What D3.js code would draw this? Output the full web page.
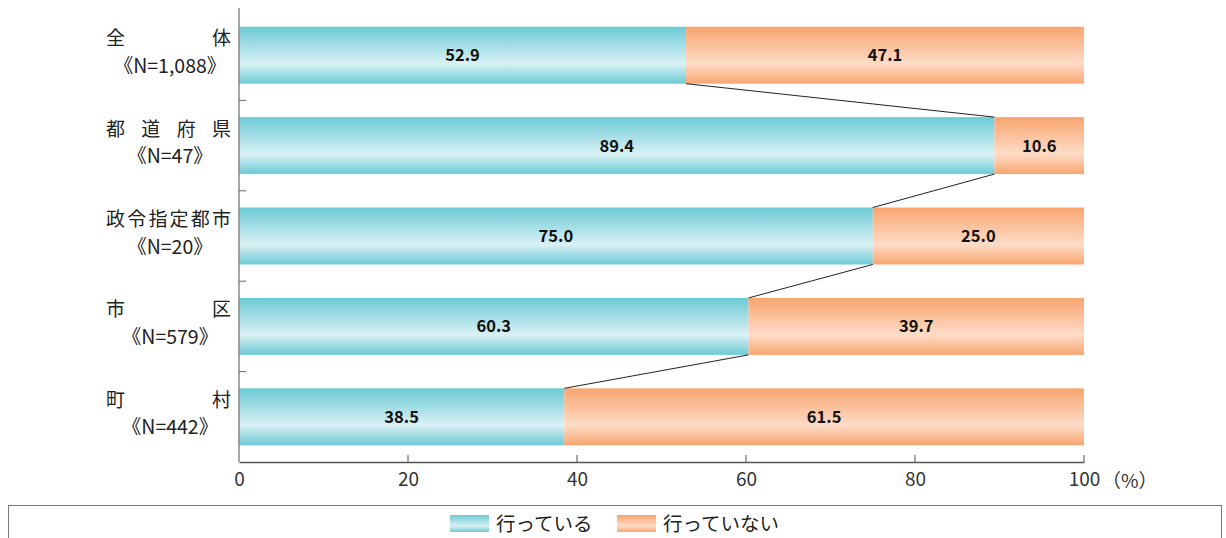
<!DOCTYPE html>
<html><head><meta charset="utf-8">
<script src="https://cdn.jsdelivr.net/npm/d3@7"></script>
<style>body{margin:0;background:#fff;} svg{display:block;}</style>
</head><body>
<svg id="c" width="1226" height="538"></svg>
<script>
const categories = ["全体","都道府県","政令指定都市","市区","町村"];
const nLabels = ["《N=1,088》","《N=47》","《N=20》","《N=579》","《N=442》"];
const doing = [52.9, 89.4, 75.0, 60.3, 38.5];
const notDoing = [47.1, 10.6, 25.0, 39.7, 61.5];
const seriesNames = ["行っている","行っていない"];
const xTicks = [0,20,40,60,80,100];

const svg = d3.select("#c");
const font = "'Noto Sans CJK JP','Noto Sans',sans-serif";
const defs = svg.append("defs");
function grad(id, edge, light){
  const g = defs.append("linearGradient").attr("id",id).attr("x1",0).attr("y1",0).attr("x2",0).attr("y2",1);
  g.append("stop").attr("offset","0%").attr("stop-color",edge);
  g.append("stop").attr("offset","65%").attr("stop-color",light);
  g.append("stop").attr("offset","100%").attr("stop-color",edge);
}
grad("gT","#6ccad5","#d9f1f4");
grad("gO","#f8a56f","#fedcc7");

const x = d3.scaleLinear().domain([0,100]).range([239,1084]);
const y = d3.scaleBand().domain(categories).range([10,462]).paddingInner(0.37).paddingOuter(0.185);
const bw = y.bandwidth();

// bars
const g = svg.append("g");
categories.forEach((c,i)=>{
  g.append("rect").attr("x",x(0)).attr("y",y(c)).attr("width",x(doing[i])-x(0)).attr("height",bw).attr("fill","url(#gT)");
  g.append("rect").attr("x",x(doing[i])).attr("y",y(c)).attr("width",x(100)-x(doing[i])).attr("height",bw).attr("fill","url(#gO)");
  g.append("text").attr("x",(x(0)+x(doing[i]))/2).attr("y",y(c)+bw/2+6).attr("text-anchor","middle")
    .attr("font-family",font).attr("font-size",16.5).attr("font-weight",600).attr("fill","#111").text(doing[i].toFixed(1));
  g.append("text").attr("x",(x(doing[i])+x(100))/2).attr("y",y(c)+bw/2+6).attr("text-anchor","middle")
    .attr("font-family",font).attr("font-size",16.5).attr("font-weight",600).attr("fill","#111").text(notDoing[i].toFixed(1));
});
// connectors
for(let i=0;i<categories.length-1;i++){
  svg.append("line").attr("x1",x(doing[i])).attr("y1",y(categories[i])+bw)
    .attr("x2",x(doing[i+1])).attr("y2",y(categories[i+1])).attr("stroke","#222").attr("stroke-width",1);
}
// left axis
svg.append("line").attr("x1",239).attr("x2",239).attr("y1",8).attr("y2",462).attr("stroke","#888").attr("stroke-width",1.5);
for(let i=0;i<categories.length-1;i++){
  const ty = (y(categories[i])+bw + y(categories[i+1]))/2;
  svg.append("line").attr("x1",239).attr("x2",246).attr("y1",ty).attr("y2",ty).attr("stroke","#666").attr("stroke-width",1);
}
// bottom axis
const ax = svg.append("g").attr("transform","translate(0,462)").call(d3.axisBottom(x).tickValues(xTicks).tickSize(0).tickPadding(11));
ax.select(".domain").attr("stroke","#555").attr("stroke-width",1.5);
ax.selectAll(".tick text").attr("font-family",font).attr("font-size",19).attr("fill","#333");
xTicks.forEach(t=>{ if(t>0) svg.append("line").attr("x1",x(t)).attr("x2",x(t)).attr("y1",462).attr("y2",455).attr("stroke","#777").attr("stroke-width",1.3); });
svg.append("text").attr("x",x(100)+18).attr("y",488).attr("font-family",font).attr("font-size",19).attr("fill","#333").text("（%）");

// category labels: one text element per category, two lines as tspans
categories.forEach((c,i)=>{
  const cy = y(c)+bw/2;
  const chars = Array.from(c);
  const fs = 19, left = 106, W = 125;
  const step = chars.length>1 ? (W-fs)/(chars.length-1) : 0;
  const t = svg.append("text").attr("font-family",font).attr("font-size",fs).attr("fill","#222");
  chars.forEach((ch,j)=>{
    t.append("tspan").attr("x",left+j*step).attr("y",cy-10).text(ch);
  });
  t.append("tspan").attr("x",170).attr("y",cy+17.5).attr("text-anchor","middle").attr("font-size",19.5).text(nLabels[i]);
});

// legend
svg.append("rect").attr("x",8.5).attr("y",505.5).attr("width",1213).attr("height",60).attr("fill","none").attr("stroke","#777").attr("stroke-width",1);
const leg = [{n:seriesNames[0],f:"url(#gT)",x:450},{n:seriesNames[1],f:"url(#gO)",x:617}];
leg.forEach(l=>{
  svg.append("rect").attr("x",l.x).attr("y",515).attr("width",39).attr("height",17).attr("fill",l.f);
  svg.append("text").attr("x",l.x+46).attr("y",531).attr("font-family",font).attr("font-size",19.5).attr("fill","#222").text(l.n);
});
</script>
</body></html>
